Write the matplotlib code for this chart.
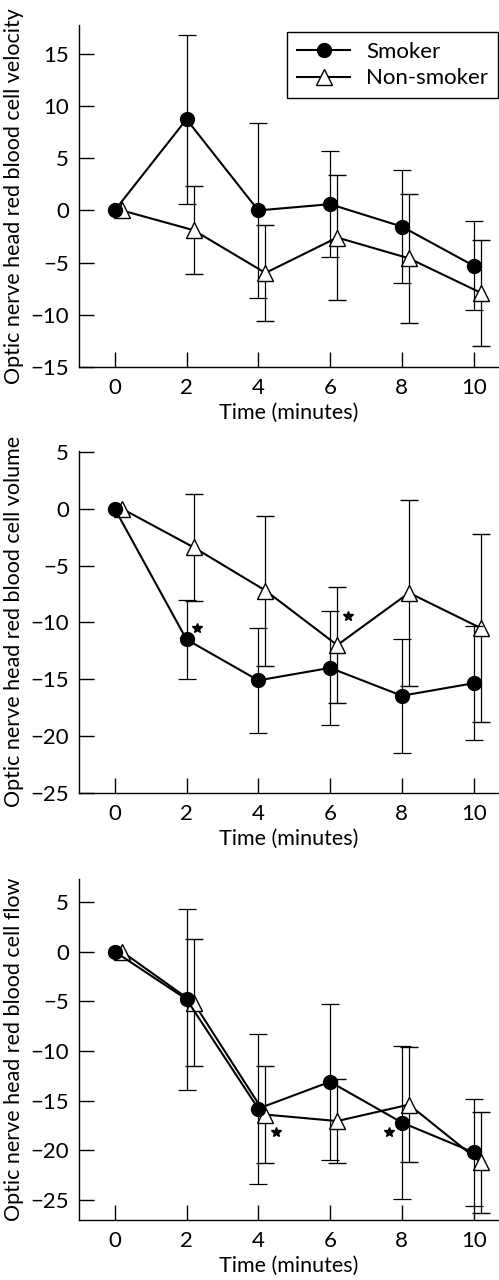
import numpy as np
import matplotlib.pyplot as plt
from matplotlib.lines import Line2D

plt.rcParams['font.family'] = ['Lato', 'DejaVu Sans']

time = [0, 2, 4, 6, 8, 10]

# velocity
vel_smoker = [0, 8.75, 0.0, 0.6, -1.55, -5.3]
vel_smoker_sd = [np.nan, 8.1, 8.4, 5.1, 5.4, 4.3]
vel_non = [0, -1.9, -6.0, -2.6, -4.6, -7.9]
vel_non_sd = [np.nan, 4.2, 4.6, 6.0, 6.2, 5.1]

# volume
vol_smoker = [0, -11.5, -15.1, -14.0, -16.45, -15.35]
vol_smoker_sd = [np.nan, 3.5, 4.6, 5.0, 5.0, 5.0]
vol_non = [0, -3.4, -7.2, -12.0, -7.4, -10.5]
vol_non_sd = [np.nan, 4.7, 6.6, 5.1, 8.2, 8.3]
vol_star_x = [2.3, 6.5]
vol_star_y = [-10.5, -9.4]

# flow
flow_smoker = [0, -4.8, -15.8, -13.1, -17.2, -20.2]
flow_smoker_sd = [np.nan, 9.1, 7.55, 7.85, 7.7, 5.35]
flow_non = [0, -5.15, -16.4, -17.05, -15.4, -21.2]
flow_non_sd = [np.nan, 6.4, 4.9, 4.2, 5.8, 5.1]
flow_star_x = [4.5, 7.65]
flow_star_y = [-18.2, -18.2]

panels = [
    ("Optic nerve head red blood cell velocity", vel_smoker, vel_smoker_sd,
     vel_non, vel_non_sd, [], [], (-15, 17.8), [-15, -10, -5, 0, 5, 10, 15]),
    ("Optic nerve head red blood cell volume", vol_smoker, vol_smoker_sd,
     vol_non, vol_non_sd, vol_star_x, vol_star_y, (-25, 5.1), [-25, -20, -15, -10, -5, 0, 5]),
    ("Optic nerve head red blood cell flow", flow_smoker, flow_smoker_sd,
     flow_non, flow_non_sd, flow_star_x, flow_star_y, (-27, 7.3), [-25, -20, -15, -10, -5, 0, 5]),
]

fig = plt.figure(figsize=(4.99, 12.8), dpi=100)
axes_pos = [0.7135, 0.3805, 0.0469]
heights = [0.267, 0.2674, 0.2664]
offset = 0.2
fs = 16

for i, (ylab, s, s_sd, n, n_sd, sx, sy, ylim, yticks) in enumerate(panels):
    ax = fig.add_axes([0.158, axes_pos[i], 0.840, heights[i]])
    t = np.array(time, dtype=float)
    ax.errorbar(t + offset, n, yerr=n_sd, fmt='-^', color='black', mfc='white', mec='black',
                ms=11, mew=1.0, lw=1.5, elinewidth=0.9, ecolor='black', capsize=6.8,
                capthick=0.9, zorder=3)
    ax.errorbar(t, s, yerr=s_sd, fmt='-o', color='black', mfc='black', ms=10, lw=1.5,
                elinewidth=0.9, ecolor='black', capsize=6.8, capthick=0.9, zorder=4)
    if sx:
        ax.plot(sx, sy, linestyle='none', marker='*', color='black', ms=7)

    ax.set_xlim(-1.0, 10.68)
    ax.set_ylim(*ylim)
    ax.set_xticks(time)
    ax.set_yticks(yticks)
    ax.spines['top'].set_visible(False)
    ax.spines['right'].set_visible(False)
    ax.spines['left'].set_linewidth(1.0)
    ax.spines['bottom'].set_linewidth(1.0)
    ax.tick_params(axis='both', direction='in', length=11, width=1.0, labelsize=fs)
    ax.tick_params(axis='y', pad=7)
    ax.tick_params(axis='x', pad=8)
    ax.set_xlabel("Time (minutes)", fontsize=15.5)
    ax.set_ylabel(ylab, fontsize=15.5)
    ax.yaxis.set_label_coords(-0.131, 0.5)
    ax.xaxis.set_label_coords(0.5, -0.105)

    if i == 0:
        handles = [
            Line2D([], [], color='black', lw=1.5, marker='o', mfc='black', ms=10),
            Line2D([], [], color='black', lw=1.5, marker='^', mfc='white', mec='black', ms=11),
        ]
        leg = ax.legend(handles, ['Smoker', 'Non-smoker'], loc='upper right',
                        bbox_to_anchor=(1.0, 0.98), borderaxespad=0, fontsize=fs,
                        handlelength=2.4, fancybox=False, edgecolor='black', framealpha=1,
                        borderpad=0.45, labelspacing=0.3, handletextpad=0.7)
        leg.get_frame().set_linewidth(1.0)

fig.savefig("out.png", dpi=100)
